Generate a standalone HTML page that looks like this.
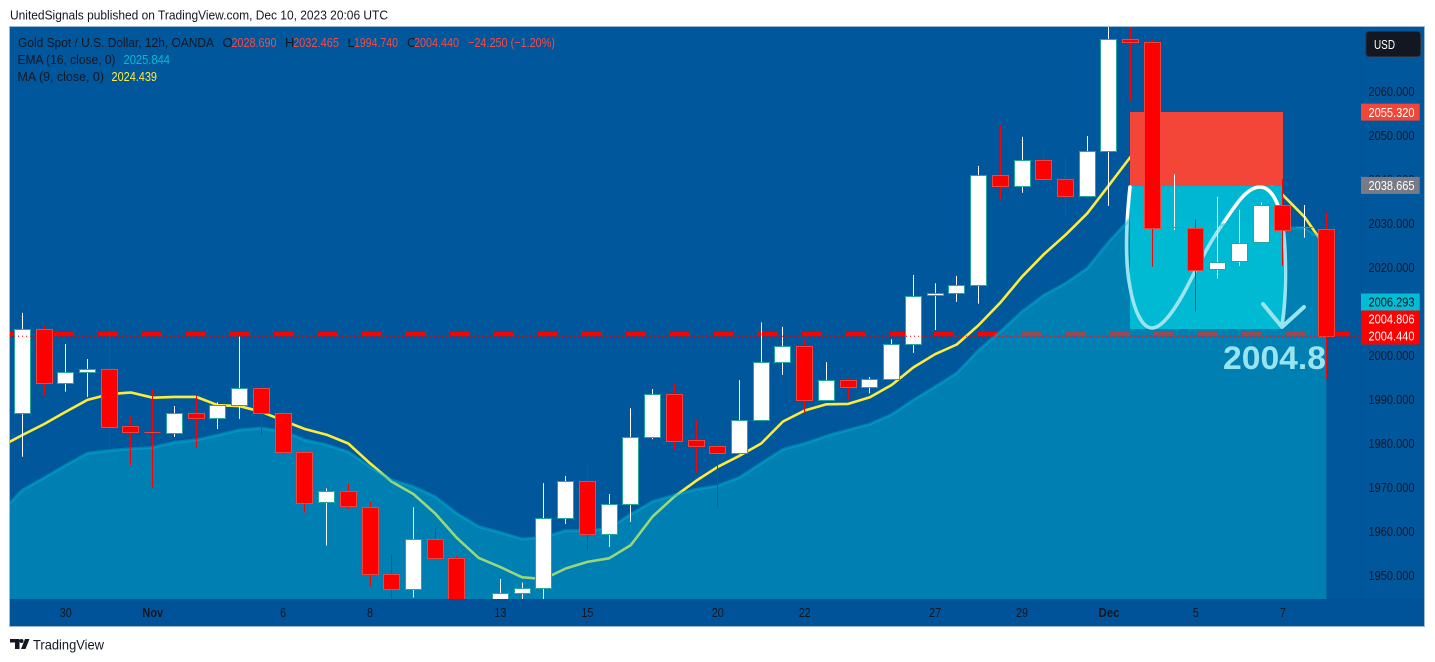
<!DOCTYPE html>
<html lang="en">
<head>
<meta charset="utf-8">
<title>Gold Spot / U.S. Dollar 12h chart</title>
<style>
html,body{margin:0;padding:0;background:#fff;width:1435px;height:662px;overflow:hidden}
svg{display:block;font-family:"Liberation Sans",sans-serif}
text{font-size:13px}
</style>
</head>
<body>
<svg id="chart" xmlns="http://www.w3.org/2000/svg" width="1435" height="662" viewBox="0 0 1435 662">
  <defs>
    <clipPath id="plot-clip"><rect x="10" y="27" width="1351" height="572"/></clipPath>
    <clipPath id="note-clip"><rect x="1200" y="330" width="126" height="60"/></clipPath>
  </defs>
  <text x="10" y="19.5" fill="#131722" textLength="378" lengthAdjust="spacingAndGlyphs">UnitedSignals published on TradingView.com, Dec 10, 2023 20:06 UTC</text>

  <rect x="10" y="27" width="1414" height="599.5" fill="#01579b"/>
  <rect x="10" y="599" width="1414" height="27.5" fill="#015399"/>
  <g id="plot" clip-path="url(#plot-clip)">
    <g id="under-layer">
      <path id="ma-line" fill="none" stroke="#ffeb3b" stroke-width="2.6" stroke-linejoin="round"/>
      <line id="level-dashes" x1="10" x2="1350" stroke="#ff0000" stroke-width="4" stroke-dasharray="20 24"/>
      <rect x="1130" y="112" width="153" height="73.3" fill="#f44539"/>
      <rect x="1130" y="185.3" width="153" height="143.7" fill="#00b7d3"/>
      <path fill="none" stroke="#ffffff" stroke-width="3.6" stroke-linecap="round" d="M1130 187C1126 225 1125 262 1130 287C1134 310 1142 328 1152 328C1163 328 1177 306 1187 287C1197 268 1208 245 1220 228C1232 211 1245 187 1260 187C1272 187 1280 205 1283 227C1286 250 1287 295 1282 325"/>
      <path fill="none" stroke="#ffffff" stroke-width="4" stroke-linecap="round" stroke-linejoin="round" d="M1263 304L1282 327L1304 307"/>
      <g clip-path="url(#note-clip)">
        <text x="1223" y="369" fill="#ffffff" font-weight="700" style="font-size:32px" textLength="103" lengthAdjust="spacingAndGlyphs">2004.8</text>
      </g>
    </g>
    <path id="ema-area" fill="rgba(0,188,212,0.4)" stroke="none"/>
    <path id="ema-line" fill="none" stroke="rgba(0,188,212,0.4)" stroke-width="3" stroke-linejoin="round"/>
    <g id="candles"></g>
    <line id="level-dotted" x1="10" x2="1361" stroke="#ff0000" stroke-width="1" stroke-dasharray="1 3"/>
  </g>

  <line x1="1361.5" y1="27" x2="1361.5" y2="626" stroke="#07508c" stroke-width="1"/>
  <line x1="10" y1="599.5" x2="1424" y2="599.5" stroke="#07508c" stroke-width="1"/>
  <g id="price-axis"></g>
  <g id="time-axis"></g>

  <g>
    <text x="18" y="47" fill="#131722" textLength="196" lengthAdjust="spacingAndGlyphs">Gold Spot / U.S. Dollar, 12h, OANDA</text>
    <text x="222.5" y="47" fill="#131722">O</text>
    <text x="231.5" y="47" fill="#f44a45" textLength="45" lengthAdjust="spacingAndGlyphs">2028.690</text>
    <text x="285" y="47" fill="#131722">H</text>
    <text x="293" y="47" fill="#f44a45" textLength="46" lengthAdjust="spacingAndGlyphs">2032.465</text>
    <text x="347.5" y="47" fill="#131722">L</text>
    <text x="354" y="47" fill="#f44a45" textLength="44" lengthAdjust="spacingAndGlyphs">1994.740</text>
    <text x="407" y="47" fill="#131722">C</text>
    <text x="414" y="47" fill="#f44a45" textLength="45" lengthAdjust="spacingAndGlyphs">2004.440</text>
    <text x="468" y="47" fill="#f44a45" textLength="87" lengthAdjust="spacingAndGlyphs">−24.250 (−1.20%)</text>
    <text x="17.5" y="64" fill="#131722" textLength="98" lengthAdjust="spacingAndGlyphs">EMA (16, close, 0)</text>
    <text x="123.5" y="64" fill="#00bcd4" textLength="46.5" lengthAdjust="spacingAndGlyphs">2025.844</text>
    <text x="17.5" y="81" fill="#131722" textLength="86.5" lengthAdjust="spacingAndGlyphs">MA (9, close, 0)</text>
    <text x="111.5" y="81" fill="#ffeb3b" textLength="45.5" lengthAdjust="spacingAndGlyphs">2024.439</text>
  </g>

  <g>
    <rect x="1366" y="31.5" width="54.5" height="25" rx="3" fill="#131722" stroke="#2a2e39"/>
    <text x="1374" y="49" fill="#ffffff" textLength="21" lengthAdjust="spacingAndGlyphs">USD</text>
  </g>

  <rect x="9.5" y="26.5" width="1415" height="600" fill="none" stroke="#9db9d6" stroke-width="1"/>

  <g>
    <path fill="#131722" d="M10 639H19.5V649H15V642.5H10ZM25 639H29.5L25.5 649H21Z"/>
    <circle cx="21.5" cy="641" r="2" fill="#131722"/>
    <text x="33" y="649.5" fill="#131722" style="font-size:14px" textLength="71" lengthAdjust="spacingAndGlyphs">TradingView</text>
  </g>
</svg>

<script>
const opens = [1986.8,2005.9,1993.6,1996.1,1996.9,1983.9,1982.5,1982.3,1986.9,1985.7,1988.7,1992.5,1986.9,1978.0,1966.4,1969.0,1965.5,1950.3,1946.9,1958.2,1953.9,1941.7,1943.3,1946.0,1947.1,1963.0,1971.4,1959.4,1966.2,1981.4,1991.2,1980.7,1979.4,1977.8,1985.3,1998.5,2002.1,1989.8,1994.4,1992.8,1994.6,2002.5,2013.7,2014.1,2016.0,2041.0,2038.5,2044.4,2040.0,2036.2,2046.4,2071.9,2071.2,2028.9,2028.9,2019.4,2021.2,2025.6,2034.1,2028.9,2028.69];
const highs = [2009.7,2006.9,2002.6,1999.2,2008.1,1986.2,1992.2,1988.5,1990.9,1989.4,2004.3,1993.1,1989.1,1978.1,1969.8,1971.0,1966.7,1954.7,1965.5,1960.7,1954.4,1943.7,1949.2,1948.4,1971.0,1972.6,1975.3,1968.5,1988.0,1992.4,1993.5,1985.3,1979.4,1994.4,2007.5,2006.5,2003.5,1998.5,1994.8,1995.1,2003.7,2018.3,2016.4,2018.1,2043.1,2052.2,2049.7,2047.4,2045.1,2049.9,2076.2,2076.2,2071.9,2041.2,2031.0,2036.0,2033.1,2034.8,2040.1,2034.2,2032.465];
const lows = [1977.0,1991.0,1991.8,1990.6,1979.0,1975.1,1970.0,1981.5,1979.0,1983.3,1985.6,1982.0,1977.4,1964.3,1956.8,1965.1,1947.5,1943.1,1945.0,1953.7,1939.4,1937.0,1941.0,1943.1,1942.2,1961.7,1955.6,1956.5,1962.2,1981.0,1978.7,1973.4,1965.6,1977.6,1985.1,1995.6,1987.0,1989.8,1989.9,1991.4,1994.5,2000.6,2005.8,2012.2,2011.8,2035.3,2037.0,2038.7,2031.5,2036.2,2034.0,2057.9,2020.2,2028.5,2010.0,2017.5,2020.4,2025.6,2020.4,2026.8,1994.74];
const closes = [2005.9,1993.7,1996.1,1996.8,1983.8,1982.5,1982.4,1986.9,1985.7,1988.7,1992.5,1986.9,1978.0,1966.4,1969.0,1965.5,1950.3,1946.9,1958.2,1953.9,1941.7,1939.9,1946.0,1947.1,1963.0,1971.4,1959.4,1966.2,1981.4,1991.2,1980.6,1979.4,1977.7,1985.3,1998.5,2002.1,1989.8,1994.4,1992.8,1994.6,2002.5,2013.5,2014.1,2016.0,2041.0,2038.5,2044.4,2040.0,2036.2,2046.4,2071.9,2071.2,2028.9,2029.0,2019.4,2021.1,2025.4,2034.0,2028.5,2029.0,2004.44];
const maValues = [1979.3,1981.9,1984.4,1987.2,1989.9,1991.2,1991.6,1990.4,1990.6,1990.6,1988.7,1988.5,1987.2,1985.2,1983.3,1982.0,1980.0,1975.5,1971.3,1968.5,1964.1,1958.5,1954.0,1951.9,1949.6,1949.2,1951.6,1953.1,1953.9,1956.9,1963.4,1967.9,1971.5,1974.7,1977.2,1980.0,1985.0,1987.5,1988.9,1989.0,1990.5,1993.3,1997.3,2000.3,2002.5,2006.9,2012.0,2017.9,2023.0,2027.4,2032.3,2038.7,2045.2,2049.0,2050.1,2049.0,2046.7,2044.4,2041.0,2036.5,2031.5,2024.4];
const emaValues = [1964.3,1969.4,1972.2,1975.1,1977.8,1978.4,1978.8,1979.1,1980.3,1980.8,1981.9,1983.1,1983.5,1982.8,1980.8,1979.7,1978.1,1974.7,1971.7,1970.2,1967.9,1964.1,1961.1,1959.8,1958.3,1958.7,1960.2,1960.2,1960.7,1963.9,1966.8,1968.3,1969.6,1970.4,1972.3,1975.5,1978.7,1980.0,1981.7,1983.1,1984.4,1986.6,1989.9,1992.9,1996.0,2001.2,2005.4,2010.0,2013.7,2016.4,2019.8,2025.9,2031.2,2031.5,2030.8,2030.3,2029.9,2029.4,2029.2,2029.0,2029.0,2025.8];
const priceTicks = [2060,2050,2040,2030,2020,2010,2000,1990,1980,1970,1960,1950];
const priceTags = [2055.320,2038.665,2006.293,2004.806,2004.440];
const tagNames = ['stop-loss','entry','take-profit','target','last-price'];
const tagFills = ['#f44539','#787b86','#00bcd4','#ff0000','#ff0000'];
const tagInks = ['#ffffff','#ffffff','#131722','#ffffff','#ffffff'];
const timeLabels = ['30','Nov','6','8','13','15','20','22','27','29','Dec','5','7'];
const timeBars = [2,6,12,16,22,26,32,36,42,46,50,54,58];
const monthLabels = ['Nov','Dec'];
const lastPrice = 2004.44;

const SVG_NS = 'http://www.w3.org/2000/svg';
function xAt(i){ return 22.3 + i * 21.733; }
function yAt(p){ return 91.5 + (2060 - p) * 4.4; }
function snap(v){ return Math.floor(v) + 0.5; }
function make(tag, attrs){
  const el = document.createElementNS(SVG_NS, tag);
  for (const k in attrs) el.setAttribute(k, attrs[k]);
  return el;
}

const linePath = (vals) => vals.map((v, i) => (i ? 'L' : 'M') + xAt(i - 1).toFixed(1) + ' ' + yAt(v).toFixed(1)).join('');
document.getElementById('ma-line').setAttribute('d', linePath(maValues));
document.getElementById('ema-line').setAttribute('d', linePath(emaValues));
document.getElementById('ema-area').setAttribute('d', linePath(emaValues) + 'L' + xAt(emaValues.length - 2).toFixed(1) + ' 599L' + xAt(-1).toFixed(1) + ' 599Z');

const lastY = yAt(lastPrice);
const dotted = document.getElementById('level-dotted');
dotted.setAttribute('y1', lastY + 0.3);
dotted.setAttribute('y2', lastY + 0.3);
const dashes = document.getElementById('level-dashes');
dashes.setAttribute('y1', lastY - 2);
dashes.setAttribute('y2', lastY - 2);

const candles = document.getElementById('candles');
opens.forEach((o, i) => {
  const c = closes[i];
  const up = c >= o;
  const cx = snap(xAt(i));
  const topY = yAt(Math.max(o, c));
  const botY = yAt(Math.min(o, c));
  const group = make('g', {});
  
  
  const wick = make('line', { x1: cx, x2: cx, y1: yAt(highs[i]), y2: yAt(lows[i]), stroke: up ? '#ffffff' : '#ff0000', 'stroke-width': 1 });
  
  
  group.appendChild(wick);
  let body;
  if (botY - topY < 1.5) {
    body = make('line', { x1: cx - 8, x2: cx + 8, y1: snap(topY), y2: snap(topY), stroke: up ? '#26a69a' : '#f44336', 'stroke-width': 1 });
  } else {
    body = make('rect', { x: cx - 8, y: snap(topY), width: 16, height: Math.round(botY - topY), fill: up ? '#ffffff' : '#ff0000', stroke: up ? '#26a69a' : '#f4433f', 'stroke-width': 1 });
  }
  
  
  group.appendChild(body);
  candles.appendChild(group);
});

const priceAxis = document.getElementById('price-axis');
priceTicks.forEach((p) => {
  const t = make('text', { x: 1368.5, y: yAt(p) + 4.7, fill: '#131722', textLength: 46, lengthAdjust: 'spacingAndGlyphs' });
  
  
  t.textContent = p.toFixed(3);
  priceAxis.appendChild(t);
});
const tagCenters = priceTags.map(yAt);
for (let i = tagCenters.length - 2; i >= 0; i--) {
  tagCenters[i] = Math.min(tagCenters[i], tagCenters[i + 1] - 17);
}
priceTags.forEach((p, i) => {
  const y = tagCenters[i];
  const r = make('rect', { x: 1361, y: (y - 8.5).toFixed(1), width: 58.7, height: 17, fill: tagFills[i] });
  
  
  priceAxis.appendChild(r);
  const t = make('text', { x: 1368.5, y: (y + 4.7).toFixed(1), fill: tagInks[i], textLength: 46, lengthAdjust: 'spacingAndGlyphs' });
  
  
  t.textContent = p.toFixed(3);
  priceAxis.appendChild(t);
});

const timeAxis = document.getElementById('time-axis');
timeLabels.forEach((label, i) => {
  const isMonth = monthLabels.includes(label);
  const t = make('text', { x: xAt(timeBars[i]), y: 617, fill: '#131722', 'text-anchor': 'middle', 'font-weight': isMonth ? 700 : 400, textLength: isMonth ? 21 : label.length * 6, lengthAdjust: 'spacingAndGlyphs' });
  
  
  t.textContent = label;
  timeAxis.appendChild(t);
});
</script>
</body>
</html>
